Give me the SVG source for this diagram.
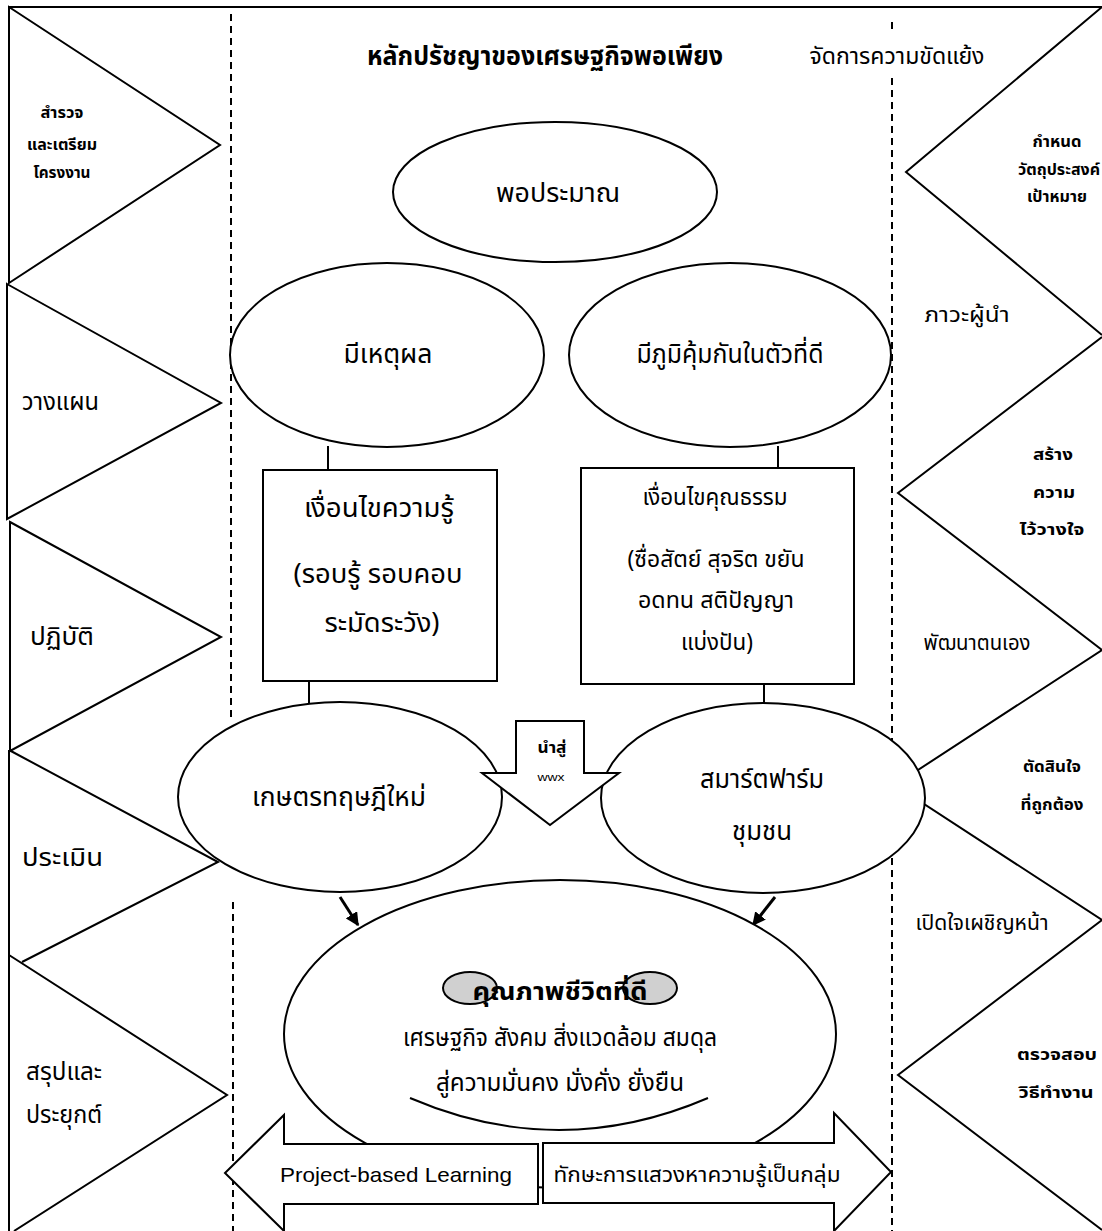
<svg xmlns="http://www.w3.org/2000/svg" width="1102" height="1231" viewBox="0 0 1102 1231">
<style>
.bg{fill:#fff}
.ln{fill:none;stroke:#000;stroke-width:2}
.sh{fill:#fff;stroke:#000;stroke-width:2}
.gr{fill:#d0d0d0;stroke:#000;stroke-width:2}
.dash{fill:none;stroke:#000;stroke-width:2;stroke-dasharray:7 5}
.t{font-family:"Noto Sans Thai","Noto Sans","DejaVu Sans",sans-serif;fill:#000;text-anchor:middle}
.l{text-anchor:start}
.b{font-weight:bold}
.s16{font-size:16px}.s22{font-size:22px}.s23{font-size:23px}.s24{font-size:24px}.s26{font-size:26px}.s27{font-size:27px}
.en{font-family:"Liberation Sans",Arial,sans-serif;font-size:21px}
</style>
<defs>
<marker id="ah" viewBox="0 0 10 10" refX="9" refY="5" markerWidth="4.5" markerHeight="4.5" orient="auto"><path d="M0,0 L10,5 L0,10 z" fill="#000"/></marker>
</defs>
<rect class="bg" x="0" y="0" width="1102" height="1231"/>
<g id="frame">
<line class="ln" x1="9" y1="7" x2="1102" y2="7"/>
<path class="dash" d="M231,14 V722 M233,902 V1231"/>
<path class="dash" d="M892,22 V30 M892,78 V1231"/>
</g>
<g id="stage-1"><path class="ln" d="M9,7 L220,145 L9,283 Z"/>
<text class="t b s16" x="62" y="118" textLength="43" lengthAdjust="spacingAndGlyphs">สำรวจ</text>
<text class="t b s16" x="62" y="150" textLength="70" lengthAdjust="spacingAndGlyphs">และเตรียม</text>
<text class="t b s16" x="62" y="178" textLength="57" lengthAdjust="spacingAndGlyphs">โครงงาน</text></g>
<g id="stage-2"><path class="ln" d="M7,284 L221,403 L7,519 Z"/><text class="t l s24" x="22" y="410" textLength="77" lengthAdjust="spacingAndGlyphs">วางแผน</text></g>
<g id="stage-3"><path class="ln" d="M10,522 L221,637 L10,751 Z"/><text class="t l s24" x="30" y="645" textLength="64" lengthAdjust="spacingAndGlyphs">ปฏิบัติ</text></g>
<g id="stage-4"><path class="ln" d="M9,750 L218,862 L22,962 M9,750 V955"/><text class="t l s24" x="22" y="866" textLength="81" lengthAdjust="spacingAndGlyphs">ประเมิน</text></g>
<g id="stage-5"><path class="ln" d="M9,955 L227,1095 L14,1231 M9,955 V1231"/><text class="t l s24" x="26" y="1080" textLength="76" lengthAdjust="spacingAndGlyphs">สรุปและ</text><text class="t l s24" x="26" y="1123" textLength="76" lengthAdjust="spacingAndGlyphs">ประยุกต์</text></g>
<g id="skill-1"><path class="ln" d="M1102,7 L906,172 L1102,335"/>
<text class="t b s16" x="1057" y="147" textLength="49" lengthAdjust="spacingAndGlyphs">กำหนด</text>
<text class="t b s16" x="1059" y="175" textLength="82" lengthAdjust="spacingAndGlyphs">วัตถุประสงค์</text>
<text class="t b s16" x="1057" y="202" textLength="60" lengthAdjust="spacingAndGlyphs">เป้าหมาย</text></g>
<g id="skill-2"><text class="t s22" x="967" y="322" textLength="85" lengthAdjust="spacingAndGlyphs">ภาวะผู้นำ</text></g>
<g id="skill-3"><path class="ln" d="M1102,337 L898,493 L1102,650"/>
<text class="t b s16" x="1053" y="460" textLength="40" lengthAdjust="spacingAndGlyphs">สร้าง</text>
<text class="t b s16" x="1054" y="498" textLength="42" lengthAdjust="spacingAndGlyphs">ความ</text>
<text class="t b s16" x="1052" y="535" textLength="65" lengthAdjust="spacingAndGlyphs">ไว้วางใจ</text></g>
<g id="skill-4"><text class="t s22" x="977" y="650" textLength="107" lengthAdjust="spacingAndGlyphs">พัฒนาตนเอง</text></g>
<g id="skill-5"><path class="ln" d="M1102,650 L895,785 L1102,920"/>
<text class="t b s16" x="1052" y="772" textLength="58" lengthAdjust="spacingAndGlyphs">ตัดสินใจ</text>
<text class="t b s16" x="1052" y="810" textLength="63" lengthAdjust="spacingAndGlyphs">ที่ถูกต้อง</text></g>
<g id="skill-6"><text class="t s22" x="982" y="930" textLength="133" lengthAdjust="spacingAndGlyphs">เปิดใจเผชิญหน้า</text></g>
<g id="skill-7"><path class="ln" d="M1102,920 L898,1075 L1102,1230"/>
<text class="t b s16" x="1057" y="1060" textLength="80" lengthAdjust="spacingAndGlyphs">ตรวจสอบ</text>
<text class="t b s16" x="1056" y="1098" textLength="75" lengthAdjust="spacingAndGlyphs">วิธีทำงาน</text></g>
<g id="title"><text class="t b s26" x="545" y="65" textLength="356" lengthAdjust="spacingAndGlyphs">หลักปรัชญาของเศรษฐกิจพอเพียง</text></g>
<g id="conflict"><rect class="bg" x="805" y="32" width="184" height="44"/><text class="t s23" x="897" y="64" textLength="175" lengthAdjust="spacingAndGlyphs">จัดการความขัดแย้ง</text></g>
<g id="connectors">
<line class="ln" x1="328" y1="446" x2="328" y2="470"/>
<line class="ln" x1="778" y1="446" x2="778" y2="468"/>
<line class="ln" x1="309" y1="681" x2="309" y2="712"/>
<line class="ln" x1="764" y1="684" x2="764" y2="712"/>
</g>
<g id="n-moderation"><ellipse class="sh" cx="555" cy="192" rx="162" ry="70"/><text class="t s27" x="558" y="202" textLength="124" lengthAdjust="spacingAndGlyphs">พอประมาณ</text></g>
<g id="n-reason"><ellipse class="sh" cx="387" cy="355" rx="157" ry="92"/><text class="t s26" x="388" y="363" textLength="89" lengthAdjust="spacingAndGlyphs">มีเหตุผล</text></g>
<g id="n-immunity"><ellipse class="sh" cx="730" cy="355" rx="161" ry="92"/><text class="t s26" x="730" y="363" textLength="187" lengthAdjust="spacingAndGlyphs">มีภูมิคุ้มกันในตัวที่ดี</text></g>
<g id="n-knowledge"><rect class="sh" x="263" y="470" width="234" height="211"/>
<text class="t s27" x="379" y="517" textLength="150" lengthAdjust="spacingAndGlyphs">เงื่อนไขความรู้</text>
<text class="t s27" x="378" y="583" textLength="169" lengthAdjust="spacingAndGlyphs">(รอบรู้ รอบคอบ</text>
<text class="t s27" x="382" y="632" textLength="115" lengthAdjust="spacingAndGlyphs">ระมัดระวัง)</text></g>
<g id="n-morality"><rect class="sh" x="581" y="468" width="273" height="216"/>
<text class="t s23" x="715" y="505" textLength="145" lengthAdjust="spacingAndGlyphs">เงื่อนไขคุณธรรม</text>
<text class="t s23" x="716" y="567" textLength="177" lengthAdjust="spacingAndGlyphs">(ซื่อสัตย์ สุจริต ขยัน</text>
<text class="t s23" x="716" y="608" textLength="156" lengthAdjust="spacingAndGlyphs">อดทน สติปัญญา</text>
<text class="t s23" x="717" y="650" textLength="72" lengthAdjust="spacingAndGlyphs">แบ่งปัน)</text></g>
<g id="n-newtheory"><ellipse class="sh" cx="340" cy="797" rx="162" ry="95"/><text class="t s27" x="339" y="806" textLength="174" lengthAdjust="spacingAndGlyphs">เกษตรทฤษฎีใหม่</text></g>
<g id="n-smartfarm"><ellipse class="sh" cx="763" cy="798" rx="162" ry="95"/><text class="t s26" x="762" y="788" textLength="124" lengthAdjust="spacingAndGlyphs">สมาร์ตฟาร์ม</text><text class="t s26" x="762" y="840" textLength="60" lengthAdjust="spacingAndGlyphs">ชุมชน</text></g>
<g id="n-leadsto"><path class="sh" d="M516,721 H584 V773 H619 L550,825 L482,773 H516 Z"/><text class="t b" style="font-size:15px" x="552" y="753" textLength="29" lengthAdjust="spacingAndGlyphs">นำสู่</text><text class="t" style="font-size:11px;font-family:'Liberation Sans',sans-serif" x="551" y="781" textLength="27" lengthAdjust="spacingAndGlyphs">wwx</text></g>
<g id="connectors-arrows">
<line class="ln" x1="340" y1="897" x2="358" y2="925" style="stroke-width:3" marker-end="url(#ah)"/>
<line class="ln" x1="775" y1="897" x2="753" y2="925" style="stroke-width:3" marker-end="url(#ah)"/>
</g>
<g id="n-quality"><ellipse class="sh" cx="560" cy="1034" rx="276" ry="154"/>
<ellipse class="gr" cx="470" cy="988" rx="27" ry="16"/><ellipse class="gr" cx="650" cy="988" rx="27" ry="16"/>
<text class="t b s24" x="560" y="1000" textLength="175" lengthAdjust="spacingAndGlyphs">คุณภาพชีวิตที่ดี</text>
<text class="t s24" x="560" y="1046" textLength="314" lengthAdjust="spacingAndGlyphs">เศรษฐกิจ สังคม สิ่งแวดล้อม สมดุล</text>
<text class="t s24" x="560" y="1091" textLength="248" lengthAdjust="spacingAndGlyphs">สู่ความมั่นคง มั่งคั่ง ยั่งยืน</text>
<path class="ln" d="M410,1098 Q559,1162 708,1098"/></g>
<g id="n-pbl"><path class="sh" d="M225,1173 L284,1115 V1144 H538 V1204 H284 V1231 Z"/><text class="t en" x="396" y="1182" textLength="232" lengthAdjust="spacingAndGlyphs">Project-based Learning</text></g>
<g id="n-groupskill"><path class="sh" d="M543,1143 H834 V1113 L891,1172 L834,1231 V1203 H543 Z"/><text class="t s22" x="697" y="1182" textLength="287" lengthAdjust="spacingAndGlyphs">ทักษะการแสวงหาความรู้เป็นกลุ่ม</text></g>
</svg>
